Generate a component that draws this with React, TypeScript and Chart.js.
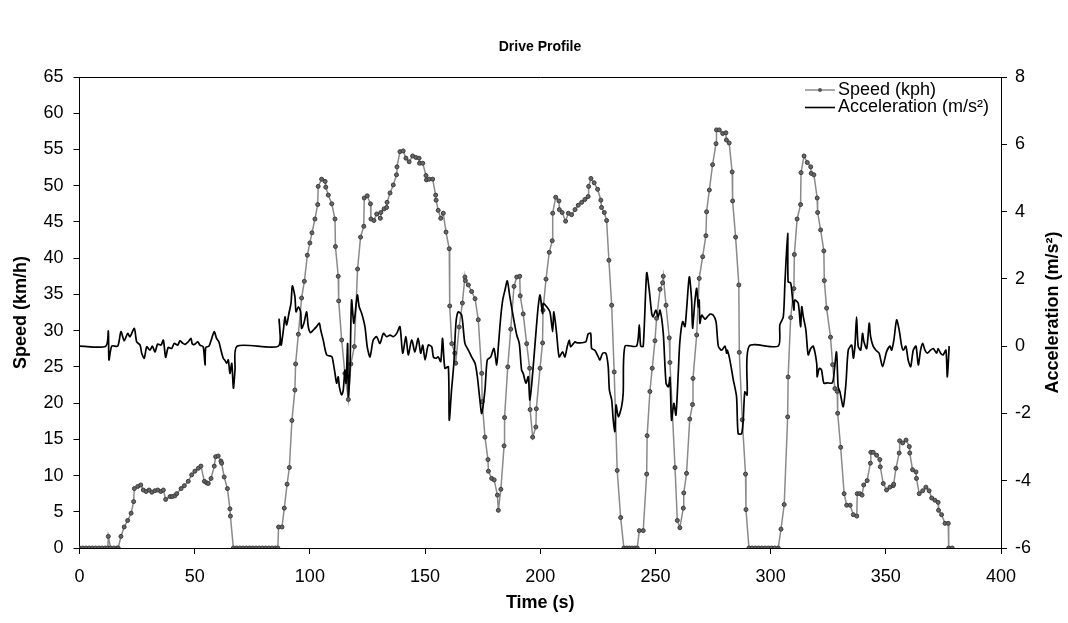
import React, { useEffect, useRef } from "react";
import { Chart, registerables } from "chart.js";

Chart.register(...registerables);

const chartTitle = "Drive Profile";
const xAxisTitle = "Time (s)";
const yLeftTitle = "Speed (km/h)";
const yRightTitle = "Acceleration (m/s²)";
const speedLabel = "Speed (kph)";
const accelLabel = "Acceleration (m/s²)";

// Speed samples (s, km/h)
const speedTime = [
  0, 1.4, 2.8, 4.2, 5.6, 7.0, 8.4, 9.8, 11.2, 12.3, 12.5, 13.5, 14.9, 16.3, 16.8,
  18.0, 19.4, 20.9, 22.4, 23.5, 23.8, 25.3, 26.6, 27.7, 28.9, 30.2, 31.4, 32.7, 34.0, 35.3, 36.4,
  37.4, 39.3, 40.3, 41.4, 42.2, 44.1, 45.5, 47.2, 48.7, 50.1, 51.6, 52.7, 54.2,
  55.2, 55.9, 57.1, 58.5, 59.1, 60.2, 61.4, 61.7, 62.8, 64.2, 65.3, 65.5, 66.8,
  68.2, 69.6, 71.0, 72.4, 73.8, 75.2, 76.6, 78.0, 79.4, 80.8, 82.2, 83.6, 85.0, 86.1,
  86.4, 87.9, 88.9, 90.1, 91.1, 92.2, 93.5, 93.8, 95.0, 96.4, 97.6, 98.9, 100.0, 100.9,
  102.2, 103.4, 103.6, 105.1, 106.6, 106.9, 108.0, 109.5, 110.9, 111.1, 112.3, 112.5,
  113.8, 115.2, 116.7, 117.8, 119.3, 120.7, 122.0, 123.4, 123.6, 124.9, 126.3, 126.5,
  127.8, 129.0, 130.6, 130.8, 132.2, 133.3, 133.5, 134.8, 136.2, 137.6, 137.8, 139.1,
  140.5, 141.7, 143.1, 144.6, 146.0, 147.4, 147.6, 149.0, 150.4, 150.6, 151.8, 153.3,
  154.6, 154.8, 155.7, 156.8, 157.9, 159.1, 160.5, 160.7, 161.6, 162.9, 163.3, 164.8,
  166.2, 167.3, 167.5, 168.8, 170.2, 171.7, 173.1, 174.6, 174.8, 176.0, 177.3, 177.5,
  178.9, 180.0, 181.4, 181.8, 182.9, 184.3, 184.5, 185.9, 187.2, 188.6, 189.8, 191.1,
  191.3, 192.6, 194.1, 195.4, 195.6, 196.7, 198.1, 198.3, 199.9, 201.0, 201.2, 202.5,
  203.9, 205.2, 205.4, 206.7, 208.1, 208.3, 209.5, 211.0, 212.2, 213.6, 215.1, 216.5,
  218.0, 219.4, 220.8, 221.0, 222.0, 223.4, 224.9, 226.3, 226.6, 227.8, 228.8, 229.8,
  231.0, 232.1, 233.4, 234.9, 236.3, 237.5, 238.7, 239.9, 241.1, 242.1,
  243.0, 244.7, 246.2, 246.4, 247.6, 248.6, 249.8, 250.5, 252.0, 253.1, 253.4, 254.6,
  256.0, 256.3, 258.5, 259.5, 260.6, 262.1, 262.3, 263.5, 264.9, 266.1, 266.3, 267.9,
  269.0, 270.5, 271.9, 272.2, 273.4, 274.8, 276.3, 276.5, 277.7, 279.2, 280.6, 280.8,
  282.0, 283.3, 283.5, 284.8, 286.2, 286.4, 287.7, 289.1, 289.3, 290.6,
  292.0, 293.4, 294.8, 296.2, 297.6, 299.0, 300.4, 301.8, 303.3,
  304.5, 305.9, 307.4, 307.6, 308.7, 310.1, 310.3, 311.5, 313.0, 313.2, 314.5, 315.9,
  317.4, 317.6, 318.8, 320.2, 320.4, 321.7, 323.1, 323.3, 324.3, 326.0, 326.9, 327.9,
  328.9, 329.1, 330.4, 331.9, 333.0, 334.5, 335.9, 337.4, 337.6, 338.7, 339.7, 340.4,
  341.9, 343.3, 343.5, 344.5, 346.0, 347.4, 347.6, 348.9, 350.3, 351.8, 353.2, 353.4,
  354.4, 355.8, 356.0, 357.3, 358.8, 360.2, 360.4, 361.6, 363.1, 363.3, 364.5, 366.0,
  367.4, 368.8, 369.9, 371.3, 372.7, 372.9, 374.2, 375.7, 377.1, 377.3, 378.8,
];
const speedKph = [
  0, 0, 0, 0, 0, 0, 0, 0, 0, 0, 1.6, 0, 0, 0, 0,
  1.6, 2.9, 3.8, 4.8, 6.4, 8.2, 8.5, 8.7, 8.0, 7.8, 8.0, 7.7, 7.9, 8.0, 7.8, 8.0,
  6.7, 7.1, 7.1, 7.2, 7.5, 8.2, 8.6, 9.2, 10.1, 10.6, 11.0, 11.3, 9.2,
  9.0, 8.9, 9.6, 11.3, 12.6, 12.7, 12.0, 11.7, 9.8, 8.2, 5.4, 4.4, 0,
  0, 0, 0, 0, 0, 0, 0, 0, 0, 0, 0, 0, 0, 0,
  2.9, 2.9, 5.5, 8.8, 11.1, 17.6, 21.8, 25.4, 29.5, 34.5, 36.8, 40.4, 42.1, 43.5,
  45.4, 47.4, 49.9, 50.9, 50.6, 49.8, 48.7, 47.5, 45.4, 41.6, 37.5, 34.1,
  28.7, 24.1, 20.5, 25.4, 27.8, 38.5, 42.9, 44.4, 48.3, 48.6, 47.5, 45.4,
  45.2, 46.1, 45.5, 46.3, 46.8, 47.0, 47.7, 49.0, 50.1, 51.5, 52.6, 54.7,
  54.8, 53.8, 53.3, 54.1, 53.9, 53.8, 53.1, 53.1, 51.4, 50.8, 50.9, 50.9,
  48.7, 48.0, 46.6, 45.5, 46.2, 43.6, 41.3, 33.4, 28.2, 26.9, 25.5, 30.5,
  33.8, 37.4, 36.9, 36.3, 35.4, 34.4, 31.5, 24.1, 20.2, 15.3, 12.2, 10.6,
  9.6, 9.4, 7.3, 5.2, 8.1, 14.1, 18.0, 25.0, 30.2, 36.1, 37.4, 37.5,
  34.8, 32.3, 28.2, 24.8, 19.1, 15.3, 16.7, 19.2, 24.8, 28.3, 32.8, 37.1,
  40.8, 42.4, 46.2, 48.4, 47.9, 46.7, 46.3, 45.1, 46.2, 46.0, 46.7, 47.3,
  47.7, 48.1, 48.5, 49.9, 51.0, 50.4, 49.5, 48.0, 47.0, 46.3, 45.2, 39.7,
  33.5, 24.3, 10.7, 4.2, 0, 0, 0, 0, 0, 0,
  2.4, 2.4, 10.2, 15.5, 21.6, 24.8, 28.6, 31.7, 35.7, 36.6, 37.5, 33.5,
  29.0, 25.6, 11.1, 3.8, 2.8, 5.5, 7.6, 10.3, 17.8, 19.8, 23.4, 29.4,
  37.2, 40.2, 43.1, 46.4, 49.4, 52.9, 55.8, 57.7, 57.7, 57.2, 57.3, 56.3,
  55.9, 51.9, 47.9, 42.9, 36.3, 27.0, 17.7, 10.2, 5.3, 0,
  0, 0, 0, 0, 0, 0, 0, 0, 0,
  2.6, 6.0, 18.1, 23.6, 31.8, 35.8, 40.5, 45.4, 47.4, 51.8, 54.1, 53.2,
  52.6, 51.7, 51.5, 48.3, 46.3, 43.9, 41.0, 36.9, 33.1, 29.1, 25.3, 22.0,
  21.6, 18.6, 13.9, 7.5, 5.9, 5.9, 4.6, 4.4, 7.5, 7.5, 7.3, 8.7,
  9.3, 11.7, 13.2, 13.2, 12.8, 12.2, 11.2, 8.9, 8.0, 8.4, 8.6, 8.8,
  11.0, 13.1, 14.8, 14.5, 14.9, 14.0, 13.1, 10.8, 10.5, 9.6, 7.5, 7.9,
  8.4, 7.9, 6.9, 6.6, 6.3, 5.2, 4.6, 3.4, 3.4, 0, 0,
];

// Acceleration samples (s, m/s²)
const accelTime = [
  0, 11.4, 12.5, 12.8, 14.0, 16.6, 18.0, 19.4, 20.9, 21.9, 23.8, 24.8, 26.3, 27.0, 28.1,
  29.2, 30.6, 31.6, 32.8, 33.9, 35.4, 36.4, 37.4, 38.5, 40.0, 41.1, 42.6, 43.6, 44.6,
  45.8, 47.2, 48.4, 49.0, 50.1, 51.3, 52.3, 53.7, 54.5, 54.8, 56.2, 57.4, 58.5, 59.5,
  60.5, 61.4, 62.4, 63.2, 63.9, 64.6, 65.3, 66.1, 66.8, 67.5, 68.4, 86.3, 86.6, 87.5,
  88.5, 89.2, 89.9, 90.9, 91.8, 92.4, 93.5, 94.0, 95.0, 96.0, 96.4, 97.4, 98.6, 99.3,
  100.3, 101.5, 102.9, 104.1, 104.7, 105.8, 107.3, 109.5, 110.2, 110.9, 111.6, 112.3,
  112.8, 113.8, 114.5, 115.2, 115.7, 116.4, 116.7, 117.4, 118.1, 119.1, 120.6, 121.4,
  122.5, 123.9, 124.9, 126.1, 127.5, 129.0, 130.4, 131.9, 133.3, 134.8, 136.2, 137.7,
  139.1, 140.3, 141.7, 142.7, 144.2, 145.6, 147.0, 148.1, 149.0, 150.0, 151.4, 152.9,
  153.6, 154.7, 155.7, 156.8, 157.6, 158.6, 160.1, 160.5, 161.5, 162.5, 163.4, 164.4,
  165.9, 167.3, 168.8, 170.2, 171.7, 172.7, 173.8, 174.6, 176.0, 177.0, 178.5, 179.9,
  181.1, 181.8, 182.8, 183.7, 184.7, 185.7, 186.8, 188.3, 189.8, 190.9, 191.9, 192.6,
  193.8, 194.8, 195.5, 196.7, 198.1, 199.1, 199.9, 201.0, 201.3, 202.8, 204.2, 205.4,
  205.9, 207.1, 208.2, 209.7, 210.7, 211.7, 212.6, 213.2, 215.1, 215.8, 218.0, 219.8,
  220.8, 221.9, 222.3, 223.7, 225.2, 225.9, 227.1, 228.5, 229.5, 230.0, 231.0, 231.7,
  232.4, 232.9, 233.9, 235.3, 236.0, 236.8, 241.8, 243.0, 243.6, 244.7, 246.2, 247.3,
  248.4, 249.0, 250.2, 251.2, 252.0, 253.4, 254.6, 255.6, 256.3, 257.0, 258.0, 258.9,
  259.9, 260.6, 261.8, 262.8, 263.5, 264.7, 265.7, 266.1, 267.1, 267.9, 268.6, 269.0,
  269.3, 270.1, 271.5, 272.5, 273.7, 275.1, 276.3, 277.3, 278.7, 280.2, 280.9, 281.2,
  282.3, 283.8, 285.2, 285.9, 287.4, 288.1, 288.8, 289.8, 290.7, 303.3, 304.0, 305.5,
  306.2, 307.4, 307.6, 308.7, 309.5, 310.1, 310.5, 312.0, 313.0, 313.5, 314.2, 315.3,
  316.3, 317.4, 318.5, 320.0, 320.2, 321.1, 322.1, 323.1, 324.6, 326.5, 327.2, 328.6,
  329.3, 330.1, 331.5, 332.7, 333.7, 335.2, 335.9, 336.6, 337.3, 338.0, 339.1, 339.9,
  340.5, 341.7, 342.8, 343.4, 344.5, 345.7, 347.1, 348.6, 350.3, 351.8, 352.5, 353.5,
  354.7, 355.8, 356.9, 357.6, 358.7, 359.7, 360.8, 361.9, 363.1, 364.1, 365.1, 366.0,
  367.0, 368.0, 369.4, 370.6, 372.1, 372.7, 373.8, 374.9, 376.1, 376.7, 377.5,
];
const accelMs2 = [
  0, 0, 0.45, -0.41, 0, 0, 0.43, 0.16, 0.38, 0.28, 0.53, 0.13, 0.03, -0.21, -0.36,
  -0.02, -0.12, 0, -0.17, 0.06, 0.03, 0.18, -0.33, -0.04, -0.07, 0.08, 0.03, 0.16, 0.1,
  0.05, 0.13, 0.23, 0.06, 0.06, 0.13, 0.03, -0.02, -0.56, -0.04, 0, 0.23, 0.43, 0.23,
  0.13, -0.12, -0.36, -0.43, -0.51, -0.41, -0.81, -0.51, -1.25, -0.71, 0, 0, 0.8, 0.03,
  0.48, 0.87, 0.63, 0.97, 1.27, 1.79, 1.47, 1.02, 1.17, 1.02, 0.53, 0.68, 1.02, 0.58,
  0.4, 0.48, 0.58, 0.68, 0.48, 0.18, -0.26, -0.31, -0.51, -0.81, -1.1, -0.91,
  -1.21, -1.45, -1.3, -0.71, -1.1, 0.08, -1.5, -0.71, 1.37, 0.68, 1.52, 1.17,
  0.97, 0.58, -0.02, -0.32, 0.18, 0.28, 0.08, 0.38, 0.28, 0.33, 0.28, 0.38,
  0.58, -0.21, 0.28, -0.26, 0.18, -0.17, 0.23, -0.21, 0.03, -0.41, 0.03, -0.02,
  -0.32, -0.36, -0.32, -0.46, 0.23, -0.66, -0.61, -2.2, -1.3, -0.51, 0.68, 1.02,
  0.92, 0.08, -0.12, -0.32, -0.51, -0.91, -1.6, -2.0, -1.3, -0.41, -0.32, -0.07,
  -0.56, -0.02, 0.83, 1.37, 1.67, 1.94, 1.47, 0.87, 0.33, 0.08, -0.71, -0.81,
  -1.1, -0.91, -1.6, -0.81, 0.38, 1.17, 1.52, 0.97, 1.27, 1.17, 1.02, 0.43,
  1.02, 0.38, -0.32, -0.17, -0.32, -0.02, 0.18, -0.02, 0.13, 0.1, 0.1, 0.13,
  0.36, 0.38, -0.07, -0.12, -0.32, -0.41, -0.21, -0.21, -0.61, -1.3, -1.6, -2.2,
  -2.54, -1.75, -2.1, -1.8, -1.4, 0, 0, 0.63, 0, 0, 2.18, 1.67,
  0.97, 0.87, 1.07, 0.87, 1.07, 0.38, -1.1, -1.21, -0.93, -2.2, -1.7, -2.05,
  -0.81, 0.13, 0.73, 0.58, 1.07, 2.06, 1.37, 0.53, 1.32, 1.72, 1.17, 1.37,
  0.68, 0.92, 0.8, 0.87, 0.95, 0.92, 0.73, 0, -0.12, 0, -0.21, -0.12,
  -0.41, -1.0, -1.5, -2.6, -2.6, -2.2, -1.36, -1.45, 0, 0, 0.63, 0.87,
  1.87, 3.35, 1.91, 1.88, 1.42, 1.07, 1.37, 1.27, 0.58, 1.17, 0.87, 0.48,
  -0.26, -0.07, 0, -0.51, -0.91, -0.66, -0.71, -1.1, -1.09, -1.1, -1.0, -0.17,
  -1.21, -1.36, -1.8, -1.1, -0.12, 0.03, -0.36, 0, 0.87, 0, -0.12, 0.38,
  0.13, -0.07, 0.68, 0.28, 0, -0.12, -0.21, -0.61, -0.17, 0, -0.12, 0.18,
  0.78, 0.48, 0, -0.12, 0, -0.41, -0.61, -0.12, 0, -0.56, -0.12, 0.08,
  -0.12, -0.21, -0.12, -0.07, -0.21, -0.07, -0.21, -0.26, -0.12, -0.91, 0,
];

const FONT = "'Liberation Sans', Arial, Helvetica, sans-serif";

const decorPlugin = {
  id: "decor",
  afterDraw(chart: any) {
    const { ctx, chartArea } = chart;
    const { left, right, top, bottom } = chartArea;
    ctx.save();
    // top frame line
    ctx.strokeStyle = "#000";
    ctx.lineWidth = 1;
    ctx.beginPath();
    ctx.moveTo(left, Math.round(top) + 0.5);
    ctx.lineTo(right, Math.round(top) + 0.5);
    ctx.stroke();

    ctx.fillStyle = "#000";
    ctx.textAlign = "center";
    ctx.textBaseline = "middle";
    // chart title
    ctx.font = `bold 14px ${FONT}`;
    ctx.fillText(chartTitle, 540, 47);
    // axis titles
    ctx.font = `bold 18px ${FONT}`;
    ctx.fillText(xAxisTitle, (left + right) / 2, 603);
    ctx.save();
    ctx.translate(21, (top + bottom) / 2);
    ctx.rotate(-Math.PI / 2);
    ctx.fillText(yLeftTitle, 0, 0);
    ctx.restore();
    ctx.save();
    ctx.translate(1053, (top + bottom) / 2);
    ctx.rotate(-Math.PI / 2);
    ctx.fillText(yRightTitle, 0, 0);
    ctx.restore();

    // legend
    ctx.textAlign = "left";
    ctx.font = `18px ${FONT}`;
    ctx.strokeStyle = "#8a8a8a";
    ctx.lineWidth = 1.5;
    ctx.beginPath();
    ctx.moveTo(805, 90);
    ctx.lineTo(835, 90);
    ctx.stroke();
    ctx.fillStyle = "#555";
    ctx.beginPath();
    ctx.arc(820, 90, 2, 0, Math.PI * 2);
    ctx.fill();
    ctx.fillStyle = "#000";
    ctx.fillText(speedLabel, 838, 90);
    ctx.strokeStyle = "#000";
    ctx.lineWidth = 1.6;
    ctx.beginPath();
    ctx.moveTo(805, 107.5);
    ctx.lineTo(835, 107.5);
    ctx.stroke();
    ctx.fillText(accelLabel, 838, 107.5);
    ctx.restore();
  },
};

export default function App() {
  const canvasRef = useRef<HTMLCanvasElement | null>(null);

  useEffect(() => {
    const canvas = canvasRef.current;
    if (!canvas) return;
    Chart.defaults.font.family = FONT;
    const tickFont = { family: FONT, size: 18 };
    const axisCommon = {
      grid: { drawOnChartArea: false, drawTicks: true, tickLength: 6, color: "#000", lineWidth: 1 },
      border: { display: true, color: "#000", width: 1 },
    };
    const chart = new Chart(canvas, {
      type: "line",
      data: {
        datasets: [
          {
            label: accelLabel,
            data: accelTime.map((t, i) => ({ x: t, y: accelMs2[i] })),
            yAxisID: "y1",
            borderColor: "#000",
            borderWidth: 1.7,
            pointRadius: 0,
            tension: 0.25,
            order: 1,
          },
          {
            label: speedLabel,
            data: speedTime.map((t, i) => ({ x: t, y: speedKph[i] })),
            yAxisID: "y",
            borderColor: "#8a8a8a",
            borderWidth: 1.5,
            pointRadius: 2,
            pointBorderWidth: 1,
            pointBackgroundColor: "#666",
            pointBorderColor: "#3a3a3a",
            tension: 0,
            order: 2,
          },
        ],
      },
      options: {
        responsive: false,
        animation: false,
        devicePixelRatio: 1,
        layout: { padding: { top: 77, left: 0, right: 0, bottom: 0 } },
        plugins: {
          legend: { display: false },
          title: { display: false },
          tooltip: { enabled: false },
        },
        scales: {
          x: {
            type: "linear",
            position: "bottom",
            min: 0,
            max: 400,
            ticks: { stepSize: 50, font: tickFont, color: "#000", padding: 12, maxRotation: 0 },
            ...axisCommon,
            afterFit: (s: any) => {
              s.height = 75;
            },
          },
          y: {
            type: "linear",
            position: "left",
            min: 0,
            max: 65,
            ticks: { stepSize: 5, font: tickFont, color: "#000", padding: 10 },
            ...axisCommon,
            afterFit: (s: any) => {
              s.width = 79.5;
            },
          },
          y1: {
            type: "linear",
            position: "right",
            min: -6,
            max: 8,
            ticks: { stepSize: 2, font: tickFont, color: "#000", padding: 8 },
            ...axisCommon,
            afterFit: (s: any) => {
              s.width = 67;
            },
          },
        },
      } as any,
      plugins: [decorPlugin],
    });
    return () => chart.destroy();
  }, []);

  return (
    <div style={{ position: "absolute", left: 0, top: 0, width: 1068, height: 623, background: "#fff" }}>
      <canvas ref={canvasRef} width={1068} height={623} style={{ display: "block" }} />
    </div>
  );
}
